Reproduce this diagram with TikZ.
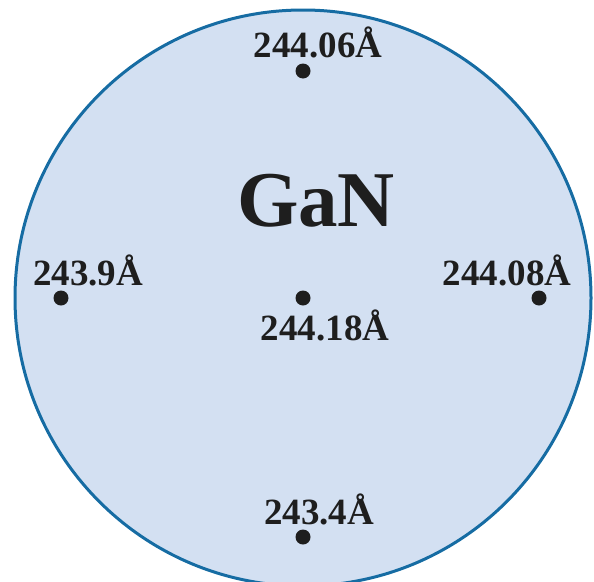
\documentclass[tikz,border=0pt]{standalone}
\usepackage{fontspec}
\setmainfont{Liberation Serif}
\usepackage{tikz}

\definecolor{waferfill}{RGB}{211,224,242}
\definecolor{waferedge}{RGB}{22,108,163}
\definecolor{dotcol}{RGB}{30,30,30}

\tikzset{
  spot/.style={circle,fill=dotcol,inner sep=0pt,minimum size=15pt},
  reading/.style={anchor=base,inner sep=0pt,color=dotcol,font=\fontsize{37}{40}\selectfont\bfseries},
}

\begin{document}
\begin{tikzpicture}[x=1pt,y=-1pt]
  \clip (0,0) rectangle (594,581);
  \draw[color=waferedge,fill=waferfill,line width=3pt] (303,298) circle (288pt);

  \node[color=dotcol,inner sep=0pt,anchor=base,font=\fontsize{79}{88}\selectfont\bfseries] (gan) at (316,226) {GaN};

  \node[spot] (top) at (303,71) {};
  \node[spot] (mid) at (303,298) {};
  \node[spot] (left) at (61,298) {};
  \node[spot] (right) at (539,298) {};
  \node[spot] (bot) at (303,537) {};

  \node[reading] (ltop) at (318,57) {244.06Å};
  \node[reading] (lmid) at (325,340) {244.18Å};
  \node[reading] (lleft) at (88,285) {243.9Å};
  \node[reading] (lright) at (507,285) {244.08Å};
  \node[reading] (lbot) at (319,524) {243.4Å};
\end{tikzpicture}
\end{document}
